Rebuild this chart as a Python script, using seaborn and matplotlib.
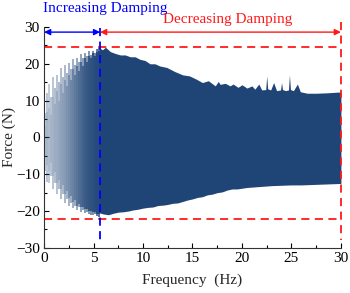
import matplotlib
matplotlib.use('Agg')
import numpy as np
import seaborn as sns
import matplotlib.pyplot as plt
from matplotlib.ticker import MultipleLocator

# ---- data ----
# light (increasing damping) region: individual strokes
light_f = [0.1, 0.3, 0.5, 0.7, 0.9, 1.1, 1.3, 1.5, 1.7, 1.9, 2.1, 2.3, 2.5, 2.7,
           2.9, 3.1, 3.3, 3.5, 3.7, 3.9, 4.1, 4.3, 4.5, 4.7, 4.9, 5.1, 5.3, 5.5]
light_top = [6.5, 12, 14.5, 11, 16.5, 13.5, 17, 15, 18.8, 16.5, 19.8, 17.5, 20.2,
             18.5, 21.3, 19.8, 21.6, 20.5, 22.6, 21.5, 22.8, 22.0, 23.4, 22.4, 23.6,
             23.0, 24.0, 24.3]
light_bot = [-9, -12, -12.5, -10.5, -14, -12.5, -15.5, -14, -16.8, -15.5, -17.8,
             -16.8, -18.7, -17.8, -19.2, -18.5, -19.8, -19.0, -20.2, -19.6, -20.6,
             -20.2, -20.7, -21.0, -21.2, -20.8, -21.4, -21.6]
light_alpha = [0.28, 0.3, 0.27, 0.32, 0.3, 0.34, 0.32, 0.36, 0.35, 0.38, 0.37, 0.4,
               0.4, 0.43, 0.42, 0.46, 0.45, 0.5, 0.48, 0.52, 0.52, 0.56, 0.56, 0.6,
               0.6, 0.65, 0.7, 0.75]
core_top = [3, 7, 8, 6, 11, 9, 12.5, 10, 14.5, 12, 15.5, 14, 17, 15.5, 18.5, 17,
            19.5, 18, 20.5, 19.5, 21.5, 20.5, 22, 21.5, 22.8, 22, 23.2, 23.5]
core_bot = [-5, -7.5, -9, -7, -10.5, -9.5, -12.5, -11.5, -14, -13, -15.5, -14.5,
            -16.5, -16, -17.5, -17, -18.5, -18, -19, -19, -19.5, -19.5, -20, -20,
            -20.3, -20.3, -20.8, -20.8]
core_alpha = [0.1, 0.12, 0.12, 0.12, 0.15, 0.15, 0.18, 0.18, 0.22, 0.22, 0.27,
              0.3, 0.34, 0.37, 0.42, 0.47, 0.52, 0.57, 0.62, 0.67, 0.72, 0.76,
              0.8, 0.82, 0.85, 0.88, 0.9, 0.9]

# dark (decreasing damping) region: envelope
upper_f = [5.6, 5.9, 6.2, 6.7, 7.2, 7.7, 8.2, 8.7, 9.2, 9.7, 10.2, 10.7, 11.2, 11.7,
           12.4, 13.2, 14.0, 14.7, 15.4, 16.0, 16.6, 17.3, 17.6, 17.8, 18.3, 18.8,
           19.1, 19.6, 20.0, 20.5, 21.0, 21.3, 21.7, 22.0, 22.4, 22.5, 22.6, 22.9,
           23.2, 23.5, 23.9, 24.0, 24.1, 24.4, 24.7, 24.8, 24.9, 25.2, 25.6, 25.9,
           26.6, 27.5, 28.5, 29.7, 30.0]
upper_v = [24.3, 23.8, 24.5, 23.3, 22.8, 22.4, 22.4, 21.9, 21.9, 21.2, 20.9, 20.0,
           20.0, 19.4, 19.0, 17.9, 17.0, 16.7, 15.8, 14.9, 15.4, 14.0, 15.2, 14.4,
           14.7, 14.0, 14.5, 13.6, 14.3, 13.4, 14.0, 13.1, 14.5, 12.9, 13.0, 16.7,
           13.2, 12.9, 14.9, 12.7, 12.9, 14.9, 13.0, 12.7, 12.9, 17.0, 13.0, 12.7,
           14.5, 12.4, 12.0, 12.0, 12.1, 12.3, 12.3]
lower_f = [5.6, 6.0, 6.5, 7.0, 7.5, 8.0, 8.5, 9.0, 9.5, 10.0, 10.5, 11.0, 11.5, 12.0,
           12.5, 13.0, 13.5, 14.0, 14.5, 15.0, 15.5, 16.0, 16.5, 17.0, 17.5, 18.0,
           18.5, 19.0, 19.5, 20.0, 20.5, 21.0, 21.5, 22.0, 23.0, 24.0, 25.0, 26.0,
           27.0, 28.0, 29.0, 30.0]
lower_v = [-20.5, -20.8, -21.0, -20.6, -20.3, -20.2, -20.0, -19.7, -19.5, -19.2,
           -19.0, -18.9, -18.5, -18.4, -18.2, -17.9, -17.8, -17.4, -17.0, -16.7,
           -16.3, -16.1, -15.6, -15.4, -15.0, -14.8, -14.3, -14.0, -14.0, -13.8,
           -13.6, -13.5, -13.4, -13.3, -13.1, -13.0, -12.9, -12.9, -12.8, -12.7,
           -12.6, -12.5]

f_switch = 5.66
upper_limit = 24.6
lower_limit = -22.1

navy = '#1f4577'
red = '#ff1a1a'
blue = '#0000ff'

sns.set_theme(style='ticks')
plt.rcParams['font.family'] = ['Liberation Serif', 'DejaVu Serif']

fig, ax = plt.subplots(figsize=(3.5, 2.93), dpi=100)
fig.subplots_adjust(left=0.126, right=0.974, bottom=0.154, top=0.908)

# light strokes (outer) and darker core strokes
for f, t, b, a in zip(light_f, light_top, light_bot, light_alpha):
    ax.bar(f, t - b, bottom=b, width=0.2, color=navy, alpha=a, linewidth=0)
for f, t, b, a in zip(light_f, core_top, core_bot, core_alpha):
    ax.bar(f, t - b, bottom=b, width=0.2, color=navy, alpha=a, linewidth=0)

# dark region as filled envelope
grid_f = np.union1d(upper_f, lower_f)
up = np.interp(grid_f, upper_f, upper_v)
lo = np.interp(grid_f, lower_f, lower_v)
ax.fill_between(grid_f, lo, up, color=navy, linewidth=0)

# limit lines
dash = dict(lw=1.3, dashes=(4.5, 3), clip_on=False)
ax.plot([0, 30], [upper_limit, upper_limit], color=red, **dash)
ax.plot([0, 30], [lower_limit, lower_limit], color=red, **dash)
ax.plot([30, 30], [31.4, -27.8], color=red, **dash)
ax.plot([f_switch, f_switch], [29.7, -27.8], color=blue, **dash)

# arrows and labels
ax.annotate('', xy=(0, 28.6), xytext=(f_switch, 28.6), annotation_clip=False,
            arrowprops=dict(arrowstyle='<|-|>', color=blue, lw=1,
                            mutation_scale=9, shrinkA=0, shrinkB=0))
ax.annotate('', xy=(f_switch, 28.6), xytext=(30, 28.6), annotation_clip=False,
            arrowprops=dict(arrowstyle='<|-|>', color=red, lw=1,
                            mutation_scale=9, shrinkA=0, shrinkB=0))
ax.text(6.2, 35.0, 'Increasing Damping', color=blue, fontsize=11,
        ha='center', va='center')
ax.text(18.6, 31.9, 'Decreasing Damping', color=red, fontsize=11,
        ha='center', va='center')

ax.set_xlim(0, 30)
ax.set_ylim(-30, 30)
ax.set_xticks(range(0, 31, 5))
ax.set_yticks(range(-30, 31, 10))
ax.xaxis.set_minor_locator(MultipleLocator(2.5))
ax.yaxis.set_minor_locator(MultipleLocator(5))
ax.tick_params(which='both', direction='in', labelsize=11, colors='black',
               width=0.8)
ax.tick_params(which='major', length=3.5, pad=3)
ax.tick_params(which='minor', length=2)
for s in ['top', 'right']:
    ax.spines[s].set_visible(False)
for s in ['left', 'bottom']:
    ax.spines[s].set_color('#333333')
    ax.spines[s].set_linewidth(0.8)

ax.set_xlabel('Frequency  (Hz)', fontsize=11, labelpad=6)
ax.set_ylabel('Force (N)', fontsize=11, labelpad=0)

fig.savefig('out.png', dpi=100)
